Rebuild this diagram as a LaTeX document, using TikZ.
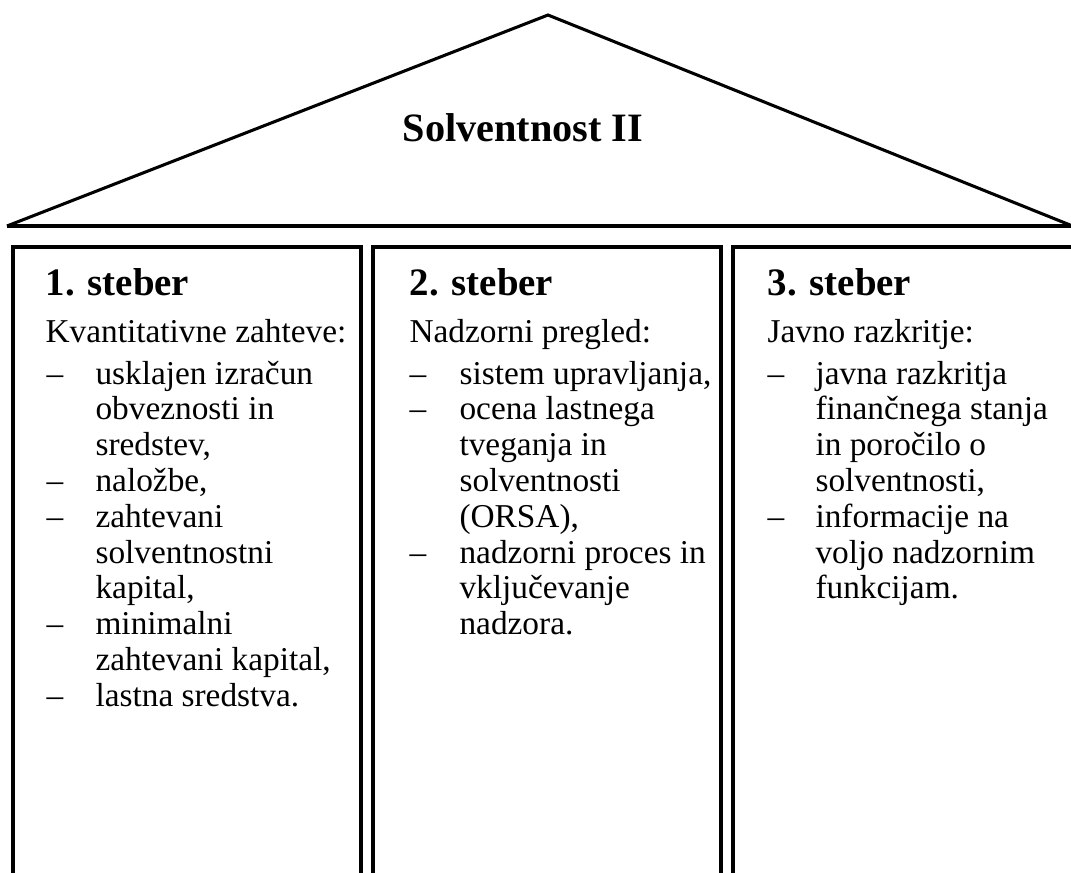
\documentclass[tikz,border=0pt]{standalone}
\usepackage{fontspec}
\setmainfont{Liberation Serif}
\begin{document}
\begin{tikzpicture}[x=0.36pt, y=-0.36pt,
    wall/.style={line width=1.1pt},
    title/.style={anchor=base, inner sep=0pt, font=\fontsize{14.5}{17}\selectfont\bfseries},
    head/.style={anchor=base west, inner sep=0pt, font=\fontsize{14}{16}\selectfont\bfseries},
    txt/.style={anchor=base west, inner sep=0pt, font=\fontsize{12}{13}\selectfont}]

    \useasboundingbox (0,0) rectangle (1071,872);
    \clip (0,0) rectangle (1071,872);

    % roof
    \draw[wall] (7,226) -- (548,15) -- (1075,227);
    \draw[wall] (7,226) -- (1075,226);
    \node[title] (naslov) at (523,141) {Solventnost II};

    % pillars, open at the bottom
    \foreach \l/\r in {13/361, 373/721, 733/1075} {
        \draw[wall] (\l,890) -- (\l,247) -- (\r,247) -- (\r,890);
    }

    % 1. steber
    \node[head] (h1) at (45,295) {1. steber};
    \node[txt] (u1) at (45,342) {Kvantitativne zahteve:};
    \foreach \k in {0,3,4,7,9}
        \node[txt] (d1-\k) at (46,384+35.8*\k) {--};
    \foreach \t [count=\k from 0] in {usklajen izračun, obveznosti in, {sredstev,}, {naložbe,}, zahtevani, solventnostni, {kapital,}, minimalni, {zahtevani kapital,}, lastna sredstva.}
        \node[txt] (t1-\k) at (95,384+35.8*\k) {\t};

    % 2. steber
    \node[head] (h2) at (409,295) {2. steber};
    \node[txt] (u2) at (409,342) {Nadzorni pregled:};
    \foreach \k in {0,1,5}
        \node[txt] (d2-\k) at (409,384+35.8*\k) {--};
    \foreach \t [count=\k from 0] in {{sistem upravljanja,}, ocena lastnega, tveganja in, solventnosti, {(ORSA),}, nadzorni proces in, vključevanje, nadzora.}
        \node[txt] (t2-\k) at (459,384+35.8*\k) {\t};

    % 3. steber
    \node[head] (h3) at (767,295) {3. steber};
    \node[txt] (u3) at (767,342) {Javno razkritje:};
    \foreach \k in {0,4}
        \node[txt] (d3-\k) at (767,384+35.8*\k) {--};
    \foreach \t [count=\k from 0] in {javna razkritja, finančnega stanja, in poročilo o, {solventnosti,}, informacije na, voljo nadzornim, funkcijam.}
        \node[txt] (t3-\k) at (815,384+35.8*\k) {\t};
\end{tikzpicture}
\end{document}
